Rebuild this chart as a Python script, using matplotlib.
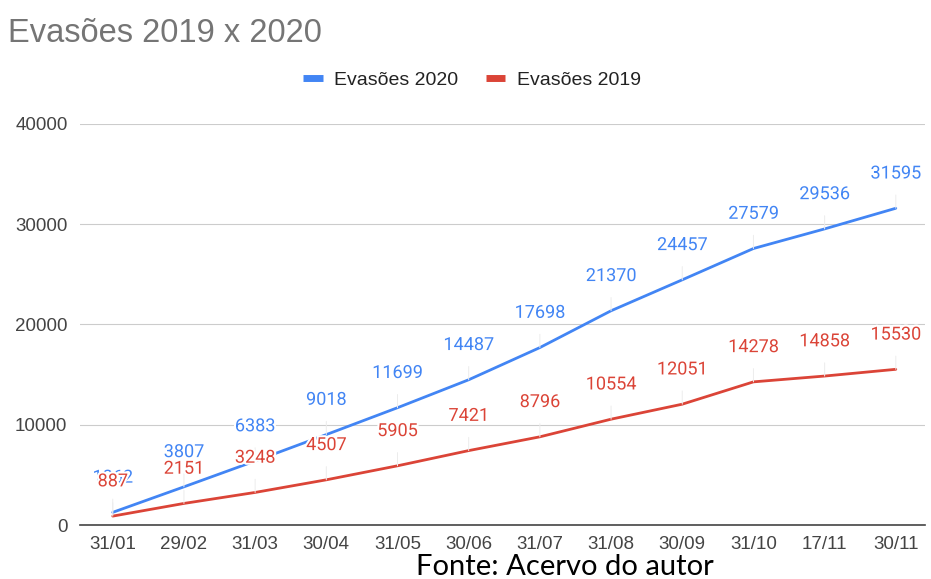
import matplotlib
matplotlib.use("Agg")
import matplotlib.pyplot as plt
import matplotlib.patheffects as pe
from matplotlib.lines import Line2D

datas = ["31/01", "29/02", "31/03", "30/04", "31/05", "30/06",
         "31/07", "31/08", "30/09", "31/10", "17/11", "30/11"]
evasoes_2020 = [1262, 3807, 6383, 9018, 11699, 14487,
                17698, 21370, 24457, 27579, 29536, 31595]
evasoes_2019 = [887, 2151, 3248, 4507, 5905, 7421,
                8796, 10554, 12051, 14278, 14858, 15530]

azul = "#4285F4"
vermelho = "#DB4437"

fig = plt.figure(figsize=(9.31, 5.79), dpi=100)
ax = fig.add_axes([80 / 931, 1 - 525 / 579, 845 / 931, 401 / 579])

x = list(range(len(datas)))
ax.plot(x, evasoes_2019, color=vermelho, lw=2.0, zorder=3, solid_capstyle="round")
ax.plot(x, evasoes_2020, color=azul, lw=2.0, zorder=3, solid_capstyle="round")

# rotulos com linha guia acima de cada ponto
halo = [pe.withStroke(linewidth=3, foreground="white")]
for serie, cor in ((evasoes_2020, azul), (evasoes_2019, vermelho)):
    for i, v in enumerate(serie):
        ax.annotate(str(v), xy=(i, v), xytext=(0, 25), textcoords="offset points",
                    ha="center", va="center", fontsize=13, family="Roboto",
                    color=cor, zorder=5, path_effects=halo, annotation_clip=False,
                    arrowprops=dict(arrowstyle="-", color="#ececec", lw=0.7,
                                    shrinkA=7, shrinkB=0))

ax.set_xlim(-0.46, 11.41)
ax.set_ylim(0, 40000)
ax.set_yticks([0, 10000, 20000, 30000, 40000])
ax.set_xticks(x)
ax.set_xticklabels(datas)
ax.tick_params(length=0, labelsize=13.5, labelcolor="#444444")
ax.tick_params(axis="y", pad=9)
ax.tick_params(axis="x", pad=8)
for lbl in ax.get_xticklabels() + ax.get_yticklabels():
    lbl.set_family("Liberation Sans")

ax.grid(axis="y", color="#cccccc", lw=0.8)
ax.set_axisbelow(True)
for s in ["top", "right", "left"]:
    ax.spines[s].set_visible(False)
ax.spines["bottom"].set_color("#444444")
ax.spines["bottom"].set_linewidth(1.2)

fig.text(8 / 931, 1 - 33 / 579, "Evasões 2019 x 2020", fontsize=23.5,
         family="Liberation Sans", color="#757575", va="center", ha="left")

handles = [Line2D([], [], color=azul, lw=5, solid_capstyle="butt"),
           Line2D([], [], color=vermelho, lw=5, solid_capstyle="butt")]
fig.legend(handles, ["Evasões 2020", "Evasões 2019"], loc="center",
           bbox_to_anchor=(472 / 931, 1 - 80 / 579), ncol=2, frameon=False,
           handlelength=1.0, handletextpad=0.6, columnspacing=1.4,
           prop={"family": "Liberation Sans", "size": 14}, labelcolor="#222222")

fig.text(565 / 931, 1 - 567 / 579, "Fonte: Acervo do autor", fontsize=21,
         family="Lato", color="black", ha="center", va="center")

fig.savefig("out.png", dpi=100)
